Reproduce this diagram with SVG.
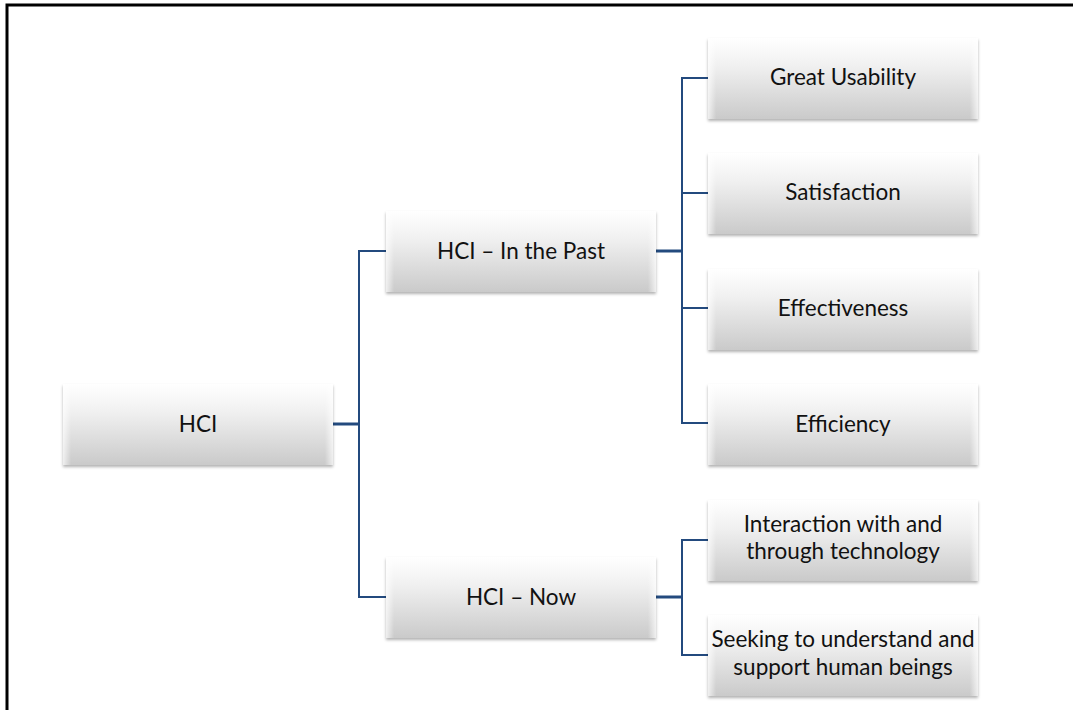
<svg xmlns="http://www.w3.org/2000/svg" width="1073" height="710" viewBox="0 0 1073 710">
<defs>
<linearGradient id="g" x1="0" y1="0" x2="0" y2="1">
<stop offset="0" stop-color="#ffffff"/>
<stop offset="0.35" stop-color="#f0f0f0"/>
<stop offset="1" stop-color="#cacaca"/>
</linearGradient>
<linearGradient id="edge" x1="0" y1="0" x2="1" y2="0">
<stop offset="0" stop-color="#ffffff" stop-opacity="0.7"/>
<stop offset="0.03" stop-color="#ffffff" stop-opacity="0"/>
<stop offset="0.97" stop-color="#ffffff" stop-opacity="0"/>
<stop offset="1" stop-color="#ffffff" stop-opacity="0.7"/>
</linearGradient>
<filter id="sh" x="-10%" y="-10%" width="120%" height="130%">
<feDropShadow dx="0" dy="2" stdDeviation="1.5" flood-color="#000" flood-opacity="0.3"/>
</filter>
</defs>
<style>
.box{fill:url(#g);filter:url(#sh)}
.hl{fill:url(#edge)}
.t{font-family:Lato,"Open Sans",sans-serif;font-size:22.5px;fill:#111;text-anchor:middle}
.c{fill:none;stroke:#234a7e;stroke-width:2}
.ck{fill:none;stroke:#234a7e;stroke-width:3}
</style>
<rect width="1073" height="710" fill="#fff"/>
<path d="M7,710 V5 H1073" fill="none" stroke="#000" stroke-width="3"/>
<g id="connectors">
<path class="ck" d="M333,424 H359"/>
<path class="c" d="M386,251 H359 V597 H386"/>
<path class="ck" d="M656,251 H682"/>
<path class="c" d="M708,78 H682 V423 H708 M682,193 H708 M682,308 H708"/>
<path class="ck" d="M656,597 H682"/>
<path class="c" d="M708,540 H682 V655 H708"/>
</g>
<g id="n-hci"><rect class="box" x="63" y="384" width="270" height="81"/><rect class="hl" x="63" y="384" width="270" height="81"/><text class="t" x="198" y="432">HCI</text></g>
<g id="n-past"><rect class="box" x="386" y="211" width="270" height="81"/><rect class="hl" x="386" y="211" width="270" height="81"/><text class="t" x="521" y="259">HCI – In the Past</text></g>
<g id="n-now"><rect class="box" x="386" y="557" width="270" height="81"/><rect class="hl" x="386" y="557" width="270" height="81"/><text class="t" x="521" y="605">HCI – Now</text></g>
<g id="n-usability"><rect class="box" x="708" y="38" width="270" height="81"/><rect class="hl" x="708" y="38" width="270" height="81"/><text class="t" x="843" y="85">Great Usability</text></g>
<g id="n-satisfaction"><rect class="box" x="708" y="153" width="270" height="81"/><rect class="hl" x="708" y="153" width="270" height="81"/><text class="t" x="843" y="200">Satisfaction</text></g>
<g id="n-effectiveness"><rect class="box" x="708" y="269" width="270" height="81"/><rect class="hl" x="708" y="269" width="270" height="81"/><text class="t" x="843" y="316">Effectiveness</text></g>
<g id="n-efficiency"><rect class="box" x="708" y="384" width="270" height="81"/><rect class="hl" x="708" y="384" width="270" height="81"/><text class="t" x="843" y="432">Efficiency</text></g>
<g id="n-interaction"><rect class="box" x="708" y="500" width="270" height="81"/><rect class="hl" x="708" y="500" width="270" height="81"/><text class="t" x="843" y="532">Interaction with and</text><text class="t" x="843" y="559">through technology</text></g>
<g id="n-seeking"><rect class="box" x="708" y="615" width="270" height="81"/><rect class="hl" x="708" y="615" width="270" height="81"/><text class="t" x="843" y="647">Seeking to understand and</text><text class="t" x="843" y="675">support human beings</text></g>
</svg>
